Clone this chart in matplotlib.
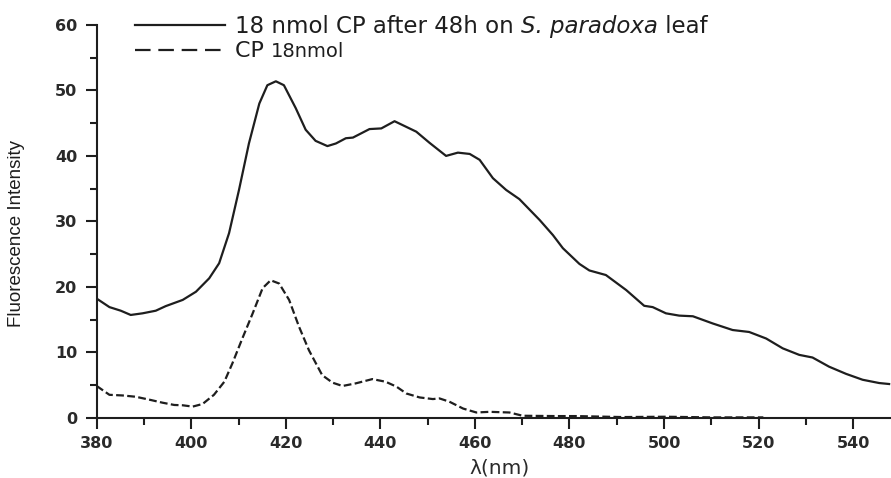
import matplotlib
matplotlib.use('Agg')
import matplotlib.pyplot as plt
from matplotlib.lines import Line2D
from matplotlib.ticker import MultipleLocator

# Data
wl_leaf = [380, 382.7, 385.1, 387.2, 389.7, 392.5, 394.6, 398.2, 401.0, 403.8,
           405.9, 408.0, 410.1, 412.2, 414.4, 416.1, 417.9, 419.6, 422.1, 424.2,
           426.3, 428.8, 430.6, 432.7, 434.2, 437.7, 440.2, 443.0, 447.6, 450.4,
           453.9, 456.4, 458.9, 461.0, 463.8, 466.6, 469.4, 473.7, 476.5, 478.6,
           482.1, 484.2, 487.7, 492.0, 495.8, 497.6, 500.4, 503.2, 506.1, 510.3,
           514.5, 518.0, 521.6, 525.1, 528.6, 531.4, 534.9, 538.5, 542.0, 545.5,
           547.6]
fi_leaf = [18.2, 16.9, 16.35, 15.7, 15.95, 16.35, 17.05, 18.0, 19.25, 21.3,
           23.6, 28.2, 34.8, 41.9, 48.0, 50.8, 51.4, 50.8, 47.3, 44.0,
           42.3, 41.5, 41.9, 42.7, 42.8, 44.1, 44.2, 45.3, 43.7, 42.0,
           40.0, 40.5, 40.3, 39.4, 36.6, 34.8, 33.4, 30.2, 27.9, 25.9,
           23.5, 22.5, 21.8, 19.5, 17.1, 16.9, 15.95, 15.6, 15.5, 14.4,
           13.4, 13.1, 12.1, 10.6, 9.6, 9.2, 7.8, 6.7, 5.8, 5.3,
           5.15]

wl_cp = [380, 382.7, 385.5, 388.3, 391.5, 393.9, 396.4, 398.2, 400.3, 402.4,
         404.8, 407.0, 408.7, 410.8, 413.0, 415.1, 416.8, 418.6, 420.7, 422.8,
         424.9, 427.7, 429.9, 432.0, 434.8, 438.3, 441.1, 443.4, 445.5, 448.3,
         451.1, 452.5, 454.6, 457.5, 460.3, 463.1, 467.3, 470.1, 477.2, 481.4,
         491.2, 500.4, 510.0, 521.0]
fi_cp = [4.85, 3.5, 3.4, 3.2, 2.7, 2.3, 1.95, 1.9, 1.7, 2.1,
         3.5, 5.5, 8.3, 12.1, 15.95, 19.8, 21.0, 20.5, 18.0, 13.9,
         10.3, 6.5, 5.35, 4.85, 5.25, 5.9, 5.5, 4.75, 3.7, 3.1,
         2.85, 2.95, 2.45, 1.4, 0.8, 0.9, 0.8, 0.3, 0.25, 0.25,
         0.1, 0.15, 0.05, 0.05]

xticks = [380, 400, 420, 440, 460, 480, 500, 520, 540]
yticks = [0, 10, 20, 30, 40, 50, 60]

ink = '#1e1e1e'

fig = plt.figure(figsize=(8.91, 4.78), dpi=100)
ax = fig.add_axes([0.1085, 0.1261, 0.8915, 0.8216])

ax.plot(wl_leaf, fi_leaf, color=ink, linewidth=1.6)
ax.plot(wl_cp, fi_cp, color=ink, linewidth=1.6, dashes=(3.5, 1.5))

ax.set_xlim(380, 548)
ax.set_ylim(0, 60)
ax.set_xticks(xticks)
ax.set_yticks(yticks)
ax.xaxis.set_minor_locator(MultipleLocator(10))
ax.yaxis.set_minor_locator(MultipleLocator(5))
ax.spines['right'].set_visible(False)
ax.spines['top'].set_visible(False)
for s in ['left', 'bottom']:
    ax.spines[s].set_linewidth(1.5)
    ax.spines[s].set_color(ink)
ax.tick_params(which='major', direction='out', length=8, width=1.5, color=ink)
ax.tick_params(which='minor', direction='out', length=5, width=1.5, color=ink)
ax.tick_params(axis='y', which='major', pad=6)
ax.tick_params(axis='x', which='major', pad=5)
for lab in ax.get_xticklabels() + ax.get_yticklabels():
    lab.set_fontfamily('DejaVu Sans')
    lab.set_fontweight('bold')
    lab.set_fontsize(11.5)
    lab.set_color('#2a2a2a')

fig.text(0.019, 0.511, 'Fluorescence Intensity', rotation=90, ha='center', va='center',
         fontsize=13.5, family='Liberation Sans', color=ink)
fig.text(0.561, 0.002, 'λ(nm)', ha='center', va='bottom', fontsize=14.5,
         family='DejaVu Sans', color='#2a2a2a')

# hand-made legend
fig.add_artist(Line2D([0.1515, 0.2525], [0.9477, 0.9477], transform=fig.transFigure,
                      color=ink, linewidth=1.6))
fig.add_artist(Line2D([0.1515, 0.2490], [0.8954, 0.8954], transform=fig.transFigure,
                      color=ink, linewidth=1.6, dashes=(7, 3.5)))

renderer = fig.canvas.get_renderer()

def put_pieces(x, y, pieces):
    for txt, kw in pieces:
        t = fig.text(x, y, txt, va='baseline', ha='left', color=ink, **kw)
        bb = t.get_window_extent(renderer=renderer)
        x += bb.width / fig.bbox.width

put_pieces(0.2637, 0.930, [('18 nmol CP after 48h on ', dict(fontsize=16.5, family='DejaVu Sans')),
                           ('S. paradoxa', dict(fontsize=16.5, family='DejaVu Sans', style='italic')),
                           (' leaf', dict(fontsize=16.5, family='DejaVu Sans'))])
put_pieces(0.2637, 0.880, [('CP ', dict(fontsize=16, family='DejaVu Sans')),
                           ('18nmol', dict(fontsize=14, family='DejaVu Sans'))])

fig.savefig('out.png', dpi=100)
